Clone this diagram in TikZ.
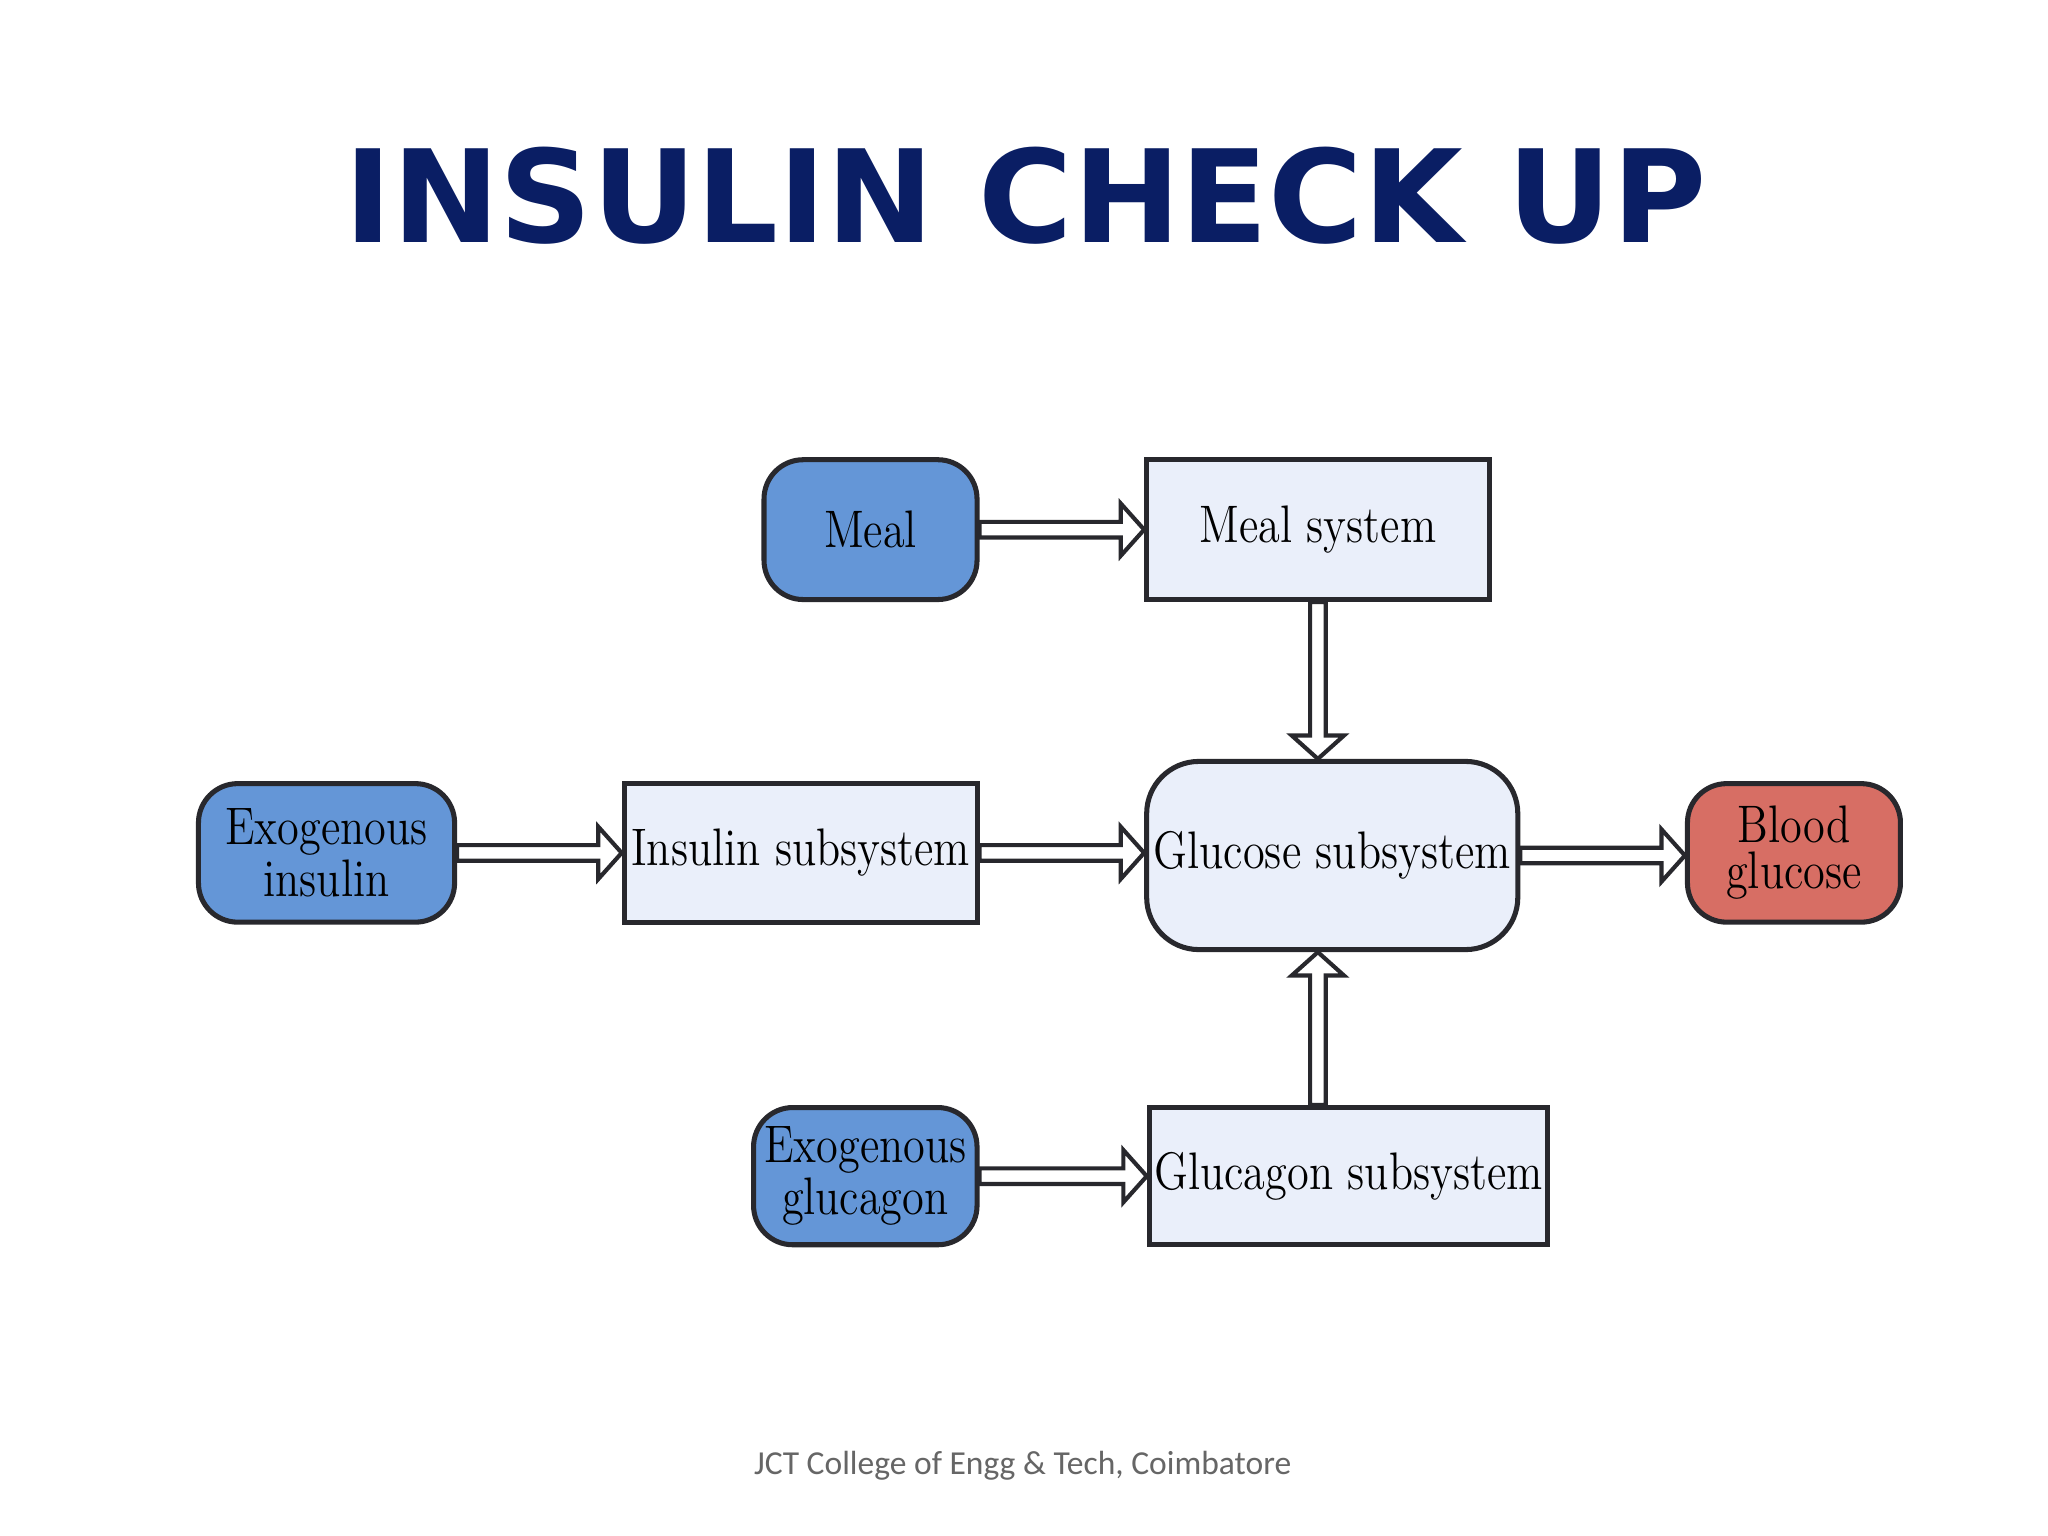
\documentclass[tikz,border=0pt]{standalone}
\usepackage{fontspec}
\newfontfamily\titlefont{DejaVu Sans}
\newfontfamily\footfont{Carlito}
\newfontfamily\nodefont{Latin Modern Roman}[FakeStretch=0.84]
\usetikzlibrary{calc}
\definecolor{ttl}{RGB}{10,30,100}
\definecolor{bluef}{RGB}{100,150,215}
\definecolor{boxf}{RGB}{234,239,250}
\definecolor{redf}{RGB}{215,110,100}
\definecolor{edge}{RGB}{40,40,45}
\tikzset{
  base/.style={draw=edge, line width=1.1pt, align=center, inner sep=0pt,
    font=\nodefont\fontsize{11.5}{10}\selectfont},
  rbox/.style={base, rounded corners=0.3cm},
  sbox/.style={base, fill=boxf},
  arr/.style={draw=edge, line width=0.9pt, fill=white, line join=miter},
}
\newcommand\hollowR[2]{\draw[arr] let \p1=(#1.east), \p2=(#2.west) in
  (\x1,\y1+1.7pt) -- (\x2-5.1pt,\y1+1.7pt) -- (\x2-5.1pt,\y1+5.7pt) -- (\x2,\y1)
  -- (\x2-5.1pt,\y1-5.7pt) -- (\x2-5.1pt,\y1-1.7pt) -- (\x1,\y1-1.7pt) -- cycle;}
\begin{document}
\begin{tikzpicture}[x=0.01cm,y=0.01cm]
\useasboundingbox (0,0) rectangle (1568,-1176);
\fill[white] (0,0) rectangle (1568,-1176);
\node[font=\titlefont\bfseries\fontsize{28}{30}\selectfont, text=ttl] (title) at (785,-150) {INSULIN CHECK UP};
\node[rbox, fill=bluef, minimum width=1.63cm, minimum height=1.07cm] (meal) at (666.5,-405.5) {Meal};
\node[sbox, minimum width=2.62cm, minimum height=1.07cm] (mealsys) at (1009,-405.5) {Meal system};
\node[rbox, fill=bluef, minimum width=1.96cm, minimum height=1.06cm] (exoins) at (250,-653) {Exogenous\\insulin};
\node[sbox, minimum width=2.70cm, minimum height=1.06cm] (inssub) at (613,-653) {Insulin subsystem};
\node[rbox, fill=boxf, rounded corners=0.4cm, minimum width=2.84cm, minimum height=1.44cm] (gluc) at (1020,-655) {Glucose subsystem};
\node[rbox, fill=redf, minimum width=1.63cm, minimum height=1.06cm] (blood) at (1373.5,-653) {Blood\\glucose};
\node[rbox, fill=bluef, minimum width=1.71cm, minimum height=1.05cm] (exoglu) at (662.5,-900.5) {Exogenous\\glucagon};
\node[sbox, minimum width=3.05cm, minimum height=1.05cm] (glusub) at (1032.5,-900.5) {Glucagon subsystem};
\node[font=\footfont\fontsize{7.3}{8}\selectfont, text=black!60] (foot) at (783,-1122) {JCT College of Engg \& Tech, Coimbatore};
\hollowR{meal}{mealsys}
\hollowR{exoins}{inssub}
\hollowR{inssub}{gluc}
\hollowR{gluc}{blood}
\hollowR{exoglu}{glusub}
\draw[arr] let \p1=(mealsys.south), \p2=(gluc.north) in
  (\x1-1.7pt,\y1) -- (\x1-1.7pt,\y2+5.1pt) -- (\x1-5.7pt,\y2+5.1pt) -- (\x1,\y2)
  -- (\x1+5.7pt,\y2+5.1pt) -- (\x1+1.7pt,\y2+5.1pt) -- (\x1+1.7pt,\y1) -- cycle;
\draw[arr] let \p1=(glusub.north), \p2=(gluc.south), \p3=(mealsys.south) in
  (\x3-1.7pt,\y1) -- (\x3-1.7pt,\y2-5.1pt) -- (\x3-5.7pt,\y2-5.1pt) -- (\x3,\y2)
  -- (\x3+5.7pt,\y2-5.1pt) -- (\x3+1.7pt,\y2-5.1pt) -- (\x3+1.7pt,\y1) -- cycle;
\end{tikzpicture}
\end{document}
